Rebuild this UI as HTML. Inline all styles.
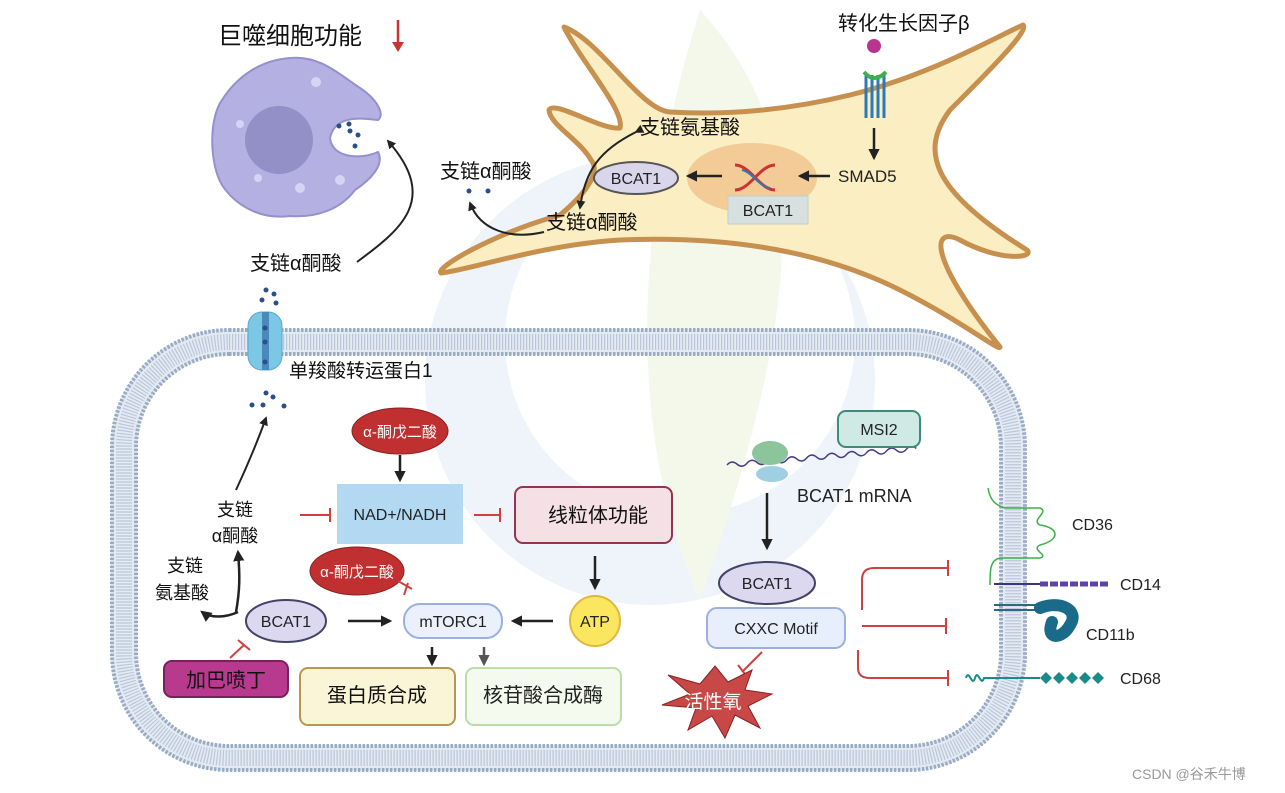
<!DOCTYPE html>
<html><head><meta charset="utf-8">
<style>
html,body{margin:0;padding:0;background:#fff;}
svg{display:block;font-family:"Liberation Sans","Noto Sans CJK SC",sans-serif;}
</style></head><body>
<svg width="1285" height="793" viewBox="0 0 1285 793" xmlns="http://www.w3.org/2000/svg">
<defs>
<marker id="ah" viewBox="0 0 10 10" refX="8" refY="5" markerWidth="4.5" markerHeight="4.5" orient="auto"><path d="M0,0 L10,5 L0,10 z" fill="#222"/></marker>
<marker id="ahg" viewBox="0 0 10 10" refX="8" refY="5" markerWidth="4.5" markerHeight="4.5" orient="auto"><path d="M0,0 L10,5 L0,10 z" fill="#555"/></marker>
</defs>
<!-- watermark logo -->
<circle cx="650" cy="380" r="225" fill="#eef4fa"/>
<circle cx="680" cy="340" r="175" fill="#fff"/>
<path d="M700 10 C800 120 820 260 700 600 C620 420 640 200 700 10z" fill="#f3f8ea"/>

<!-- cell membrane -->
<rect x="124" y="342" width="889" height="416" rx="105" fill="none" stroke="#e4eaf2" stroke-width="26"/>
<rect x="124" y="342" width="889" height="416" rx="105" fill="none" stroke="#b9c7da" stroke-width="16" stroke-dasharray="1.2 1.8"/>
<rect x="112" y="330" width="913" height="440" rx="117" fill="none" stroke="#9aabc4" stroke-width="4" stroke-dasharray="2.5 1.5"/>
<rect x="136" y="354" width="865" height="392" rx="93" fill="none" stroke="#9aabc4" stroke-width="4" stroke-dasharray="2.5 1.5"/>

<!-- fibroblast -->
<path d="M564,27 C600,40 640,110 670,112 C720,115 780,112 850,95 C930,75 990,40 1023,25 C1030,30 990,70 950,110 C920,150 930,190 1027,250 C1035,258 1000,262 960,240 C930,225 930,260 1000,347 C1000,352 960,320 900,290 C830,255 740,235 620,240 C540,245 470,270 441,273 C435,268 490,235 560,215 C590,190 600,170 591,160 C580,140 550,125 549,110 C555,100 600,130 620,128 C625,110 580,60 564,27z" fill="#fbeec2" stroke="#c8904e" stroke-width="5" stroke-linejoin="round"/>
<ellipse cx="752" cy="178" rx="65" ry="35" fill="#f3cb96"/>
<rect x="728" y="196" width="80" height="28" fill="#d6e0de" stroke="#c2cfcc"/>
<text x="768" y="216" font-size="16" text-anchor="middle" fill="#222">BCAT1</text>
<path d="M735,165 C750,165 760,190 775,190 M735,190 C750,190 760,165 775,165" fill="none" stroke="#c33" stroke-width="3"/>
<path d="M742,170 C752,172 758,186 770,188" fill="none" stroke="#2a7ab8" stroke-width="2"/>
<ellipse cx="636" cy="178" rx="42" ry="16" fill="#d9d6ec" stroke="#555" stroke-width="2"/>
<text x="636" y="184" font-size="16" text-anchor="middle" fill="#222">BCAT1</text>
<line x1="722" y1="176" x2="688" y2="176" stroke="#222" stroke-width="2.5" marker-end="url(#ah)"/>
<line x1="830" y1="176" x2="800" y2="176" stroke="#222" stroke-width="2.5" marker-end="url(#ah)"/>
<text x="838" y="182" font-size="17" fill="#222">SMAD5</text>
<line x1="874" y1="128" x2="874" y2="158" stroke="#222" stroke-width="2.5" marker-end="url(#ah)"/>
<circle cx="874" cy="46" r="7" fill="#b8348e"/>
<g stroke="#2a7ab8" stroke-width="3"><line x1="866" y1="75" x2="866" y2="118"/><line x1="872" y1="75" x2="872" y2="118"/><line x1="878" y1="75" x2="878" y2="118"/><line x1="884" y1="75" x2="884" y2="118"/></g>
<path d="M864,72 q10,12 22,0" fill="none" stroke="#3cb04a" stroke-width="4"/>
<text x="838" y="30" font-size="20" fill="#111">转化生长因子β</text>
<text x="640" y="134" font-size="20" fill="#111">支链氨基酸</text>
<text x="546" y="229" font-size="20" fill="#111">支链α酮酸</text>
<path d="M636,132 C600,150 585,170 580,208" fill="none" stroke="#222" stroke-width="2" marker-start="url(#ah)" marker-end="url(#ah)"/>
<text x="440" y="178" font-size="20" fill="#111">支链α酮酸</text>
<circle cx="469" cy="191" r="2.5" fill="#2a4f8c"/><circle cx="488" cy="191" r="2.5" fill="#2a4f8c"/>
<path d="M544,232 C510,240 480,230 470,203" fill="none" stroke="#222" stroke-width="2" marker-end="url(#ah)"/>

<!-- macrophage -->
<path d="M290,58 C320,55 340,75 360,88 C378,100 385,115 378,120 C360,118 335,115 330,138 C332,158 360,160 378,152 C385,165 370,180 355,190 C340,210 315,218 290,216 C260,220 235,205 222,185 C210,165 208,120 222,100 C238,75 262,60 290,58z" fill="#b4b0e2" stroke="#9690cc" stroke-width="2"/>
<circle cx="279" cy="140" r="34" fill="#9390c8"/>
<circle cx="316" cy="82" r="5" fill="#d6d4f2"/><circle cx="240" cy="124" r="4" fill="#d6d4f2"/><circle cx="300" cy="188" r="5" fill="#d6d4f2"/><circle cx="340" cy="180" r="5" fill="#d6d4f2"/><circle cx="258" cy="178" r="4" fill="#d6d4f2"/>
<g fill="#2a4f8c"><circle cx="339" cy="126" r="2.5"/><circle cx="349" cy="124" r="2.5"/><circle cx="350" cy="131" r="2.5"/><circle cx="358" cy="135" r="2.5"/><circle cx="355" cy="146" r="2.5"/></g>
<text x="218" y="44" font-size="24" fill="#111">巨噬细胞功能</text>
<line x1="398" y1="20" x2="398" y2="50" stroke="#c33" stroke-width="2.5"/><path d="M392,42 L398,52 L404,42z" fill="#c33"/>
<text x="250" y="270" font-size="20" fill="#111">支链α酮酸</text>
<path d="M357,262 C400,230 440,200 388,141" fill="none" stroke="#222" stroke-width="2" marker-end="url(#ah)"/>

<!-- transporter -->
<g fill="#2a4f8c"><circle cx="266" cy="290" r="2.5"/><circle cx="274" cy="294" r="2.5"/><circle cx="262" cy="300" r="2.5"/><circle cx="276" cy="303" r="2.5"/></g>
<rect x="248" y="312" width="34" height="58" rx="14" fill="#7cc6e6" stroke="#5aa8cc"/>
<rect x="262" y="312" width="7" height="58" fill="#4a8ab8"/>
<g fill="#2a4f8c"><circle cx="265" cy="328" r="2.5"/><circle cx="265" cy="342" r="2.5"/><circle cx="265" cy="362" r="2.5"/></g>
<text x="289" y="377" font-size="19" fill="#111">单羧酸转运蛋白1</text>
<g fill="#2a4f8c"><circle cx="266" cy="393" r="2.5"/><circle cx="273" cy="397" r="2.5"/><circle cx="252" cy="405" r="2.5"/><circle cx="263" cy="405" r="2.5"/><circle cx="284" cy="406" r="2.5"/></g>
<path d="M236,490 C250,460 258,440 266,418" fill="none" stroke="#222" stroke-width="2" marker-end="url(#ah)"/>

<!-- lower left -->
<text x="235" y="516" font-size="18" text-anchor="middle" fill="#111">支链</text>
<text x="235" y="542" font-size="18" text-anchor="middle" fill="#111">α酮酸</text>
<text x="185" y="572" font-size="18" text-anchor="middle" fill="#111">支链</text>
<text x="182" y="599" font-size="18" text-anchor="middle" fill="#111">氨基酸</text>
<path d="M238,612 C225,618 210,618 202,612" fill="none" stroke="#222" stroke-width="2.5" marker-end="url(#ah)"/>
<path d="M236,612 C240,590 240,575 238,552" fill="none" stroke="#222" stroke-width="2.5" marker-end="url(#ah)"/>
<ellipse cx="286" cy="621" rx="40" ry="21" fill="#dcd8f0" stroke="#444268" stroke-width="2"/>
<text x="286" y="627" font-size="16" text-anchor="middle" fill="#222">BCAT1</text>
<rect x="164" y="661" width="124" height="36" rx="8" fill="#b83a8e" stroke="#7a2060" stroke-width="2"/>
<text x="226" y="687" font-size="20" text-anchor="middle" fill="#111">加巴喷丁</text>
<path d="M230,658 L244,645 M238,640 L250,650" stroke="#d04040" stroke-width="2"/>
<path d="M300,515 L330,515 M330,508 L330,522" stroke="#d04040" stroke-width="2"/>
<rect x="337" y="484" width="126" height="60" fill="#b2d8f2"/>
<text x="400" y="520" font-size="16" text-anchor="middle" fill="#222">NAD+/NADH</text>
<ellipse cx="400" cy="431" rx="48" ry="23" fill="#c03030" stroke="#8a2020"/>
<text x="400" y="437" font-size="15" text-anchor="middle" fill="#fff">α-酮戊二酸</text>
<line x1="400" y1="455" x2="400" y2="480" stroke="#222" stroke-width="2.5" marker-end="url(#ah)"/>
<path d="M474,515 L500,515 M500,508 L500,522" stroke="#d04040" stroke-width="2"/>
<rect x="515" y="487" width="157" height="56" rx="8" fill="#f5e0e6" stroke="#963450" stroke-width="2"/>
<text x="598" y="522" font-size="20" text-anchor="middle" fill="#111">线粒体功能</text>
<ellipse cx="357" cy="571" rx="47" ry="24" fill="#c03030" stroke="#8a2020"/>
<text x="357" y="577" font-size="15" text-anchor="middle" fill="#fff">α-酮戊二酸</text>
<path d="M398,581 L412,589 M408,583 L404,595" stroke="#d04040" stroke-width="2"/>
<line x1="348" y1="621" x2="390" y2="621" stroke="#222" stroke-width="2.5" marker-end="url(#ah)"/>
<rect x="404" y="604" width="98" height="34" rx="16" fill="#eaf0fc" stroke="#9ab0e0" stroke-width="2"/>
<text x="453" y="627" font-size="16" text-anchor="middle" fill="#222">mTORC1</text>
<line x1="553" y1="621" x2="513" y2="621" stroke="#222" stroke-width="2.5" marker-end="url(#ah)"/>
<circle cx="595" cy="621" r="25" fill="#fbe660" stroke="#e0b840" stroke-width="2"/>
<text x="595" y="627" font-size="16" text-anchor="middle" fill="#222">ATP</text>
<line x1="595" y1="556" x2="595" y2="588" stroke="#222" stroke-width="2.5" marker-end="url(#ah)"/>
<line x1="432" y1="647" x2="432" y2="664" stroke="#222" stroke-width="2.5" marker-end="url(#ah)"/>
<line x1="484" y1="647" x2="484" y2="664" stroke="#555" stroke-width="2.5" marker-end="url(#ahg)"/>
<rect x="300" y="668" width="155" height="57" rx="8" fill="#fbf5d8" stroke="#b89850" stroke-width="2"/>
<text x="377" y="702" font-size="20" text-anchor="middle" fill="#111">蛋白质合成</text>
<rect x="466" y="668" width="155" height="57" rx="8" fill="#f4faee" stroke="#bcdcaa" stroke-width="2"/>
<text x="543" y="702" font-size="20" text-anchor="middle" fill="#222">核苷酸合成酶</text>

<!-- right side -->
<path d="M727,465 q5,-5 10,0 t10,0 t10,0 t10,0 t10,0 t10,0 t10,0 t10,0 t10,0 t10,0 t10,0 t10,0 t10,0 t10,0 t10,0 t10,0 t10,0 t10,0 t10,0" fill="none" stroke="#4a3c88" stroke-width="1.5" transform="rotate(-5 727 465)"/>
<ellipse cx="770" cy="453" rx="18" ry="12" fill="#8cc49c"/>
<ellipse cx="772" cy="474" rx="16" ry="8" fill="#9fcfe2"/>
<rect x="838" y="411" width="82" height="36" rx="8" fill="#cfeae4" stroke="#3c8c7c" stroke-width="2"/>
<text x="879" y="435" font-size="16" text-anchor="middle" fill="#222">MSI2</text>
<text x="797" y="502" font-size="18" fill="#222">BCAT1 mRNA</text>
<line x1="767" y1="493" x2="767" y2="548" stroke="#222" stroke-width="2.5" marker-end="url(#ah)"/>
<ellipse cx="767" cy="583" rx="48" ry="21" fill="#dcd8f0" stroke="#444268" stroke-width="2"/>
<text x="767" y="589" font-size="16" text-anchor="middle" fill="#222">BCAT1</text>
<rect x="707" y="608" width="138" height="40" rx="10" fill="#e8effc" stroke="#9ab0e0" stroke-width="2"/>
<text x="776" y="634" font-size="16" text-anchor="middle" fill="#222">CXXC Motif</text>
<path d="M762,652 L742,672 M738,665 L748,678" stroke="#d04040" stroke-width="2"/>
<path d="M715,666 L728,682 L752,670 L745,690 L772,694 L748,706 L760,728 L735,715 L725,738 L712,716 L688,730 L696,708 L662,705 L690,694 L668,675 L700,684z" fill="#c84848" stroke="#8a2020"/>
<text x="713" y="708" font-size="19" text-anchor="middle" fill="#fff">活性氧</text>
<path d="M862,610 L862,580 Q862,568 874,568 L948,568 M948,560 L948,576" fill="none" stroke="#d04040" stroke-width="2"/>
<path d="M862,626 L946,626 M946,618 L946,634" fill="none" stroke="#d04040" stroke-width="2"/>
<path d="M858,650 L858,668 Q858,678 870,678 L948,678 M948,670 L948,686" fill="none" stroke="#d04040" stroke-width="2"/>
<path d="M988,488 C990,500 995,505 1005,508 L1040,508 C1050,512 1030,520 1040,525 C1060,528 1060,540 1040,545 C1030,550 1050,555 1040,558 L1000,558 C990,560 990,570 990,585" fill="none" stroke="#3cb04a" stroke-width="1.5"/>
<text x="1072" y="530" font-size="16" fill="#222">CD36</text>
<line x1="994" y1="584" x2="1040" y2="584" stroke="#3c3480" stroke-width="2"/>
<line x1="1040" y1="584" x2="1108" y2="584" stroke="#5a44a8" stroke-width="5" stroke-dasharray="8 2"/>
<text x="1120" y="590" font-size="16" fill="#222">CD14</text>
<line x1="994" y1="605" x2="1040" y2="605" stroke="#2a6a80" stroke-width="2"/><line x1="994" y1="610" x2="1040" y2="610" stroke="#2a6a80" stroke-width="2"/>
<path d="M1040,608 C1060,600 1080,610 1070,625 C1062,640 1045,640 1052,622" fill="none" stroke="#1a6a8a" stroke-width="12" stroke-linecap="round"/>
<text x="1086" y="640" font-size="16" fill="#222">CD11b</text>
<path d="M966,678 c3,-10 6,10 9,0 c3,-10 6,10 9,0 L1040,678" fill="none" stroke="#1a8a8a" stroke-width="2"/>
<g fill="#1a8a8a"><path d="M1040,678 l6,-6 l6,6 l-6,6z"/><path d="M1053,678 l6,-6 l6,6 l-6,6z"/><path d="M1066,678 l6,-6 l6,6 l-6,6z"/><path d="M1079,678 l6,-6 l6,6 l-6,6z"/><path d="M1092,678 l6,-6 l6,6 l-6,6z"/></g>
<text x="1120" y="684" font-size="16" fill="#222">CD68</text>
<text x="1132" y="779" font-size="14" fill="#999">CSDN @谷禾牛博</text>
</svg>
</body></html>
